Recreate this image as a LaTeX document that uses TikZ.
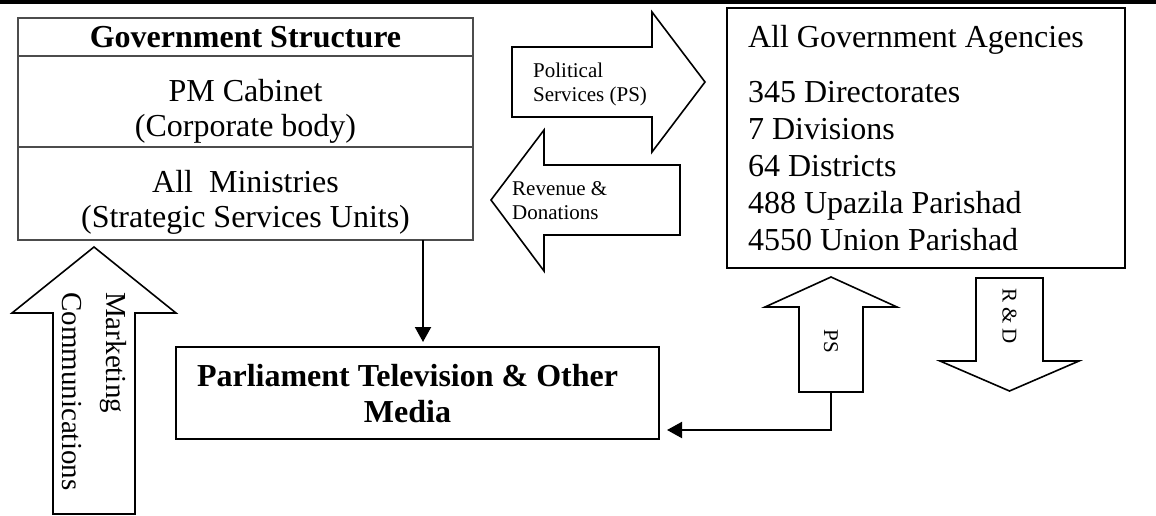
\documentclass[tikz,border=0pt]{standalone}
\usepackage{fontspec}
\setmainfont{Liberation Serif}
\usetikzlibrary{positioning,arrows.meta}

\begin{document}
\begin{tikzpicture}[x=1pt,y=-1pt,
    row/.style={draw=black!70,line width=1.3pt,minimum width=455pt,inner sep=0pt,outer sep=0pt},
    box/.style={draw,line width=2pt,inner sep=0pt},
    fat arrow/.style={draw,line width=1.6pt,fill=white},
    big text/.style={font=\fontsize{32}{35}\selectfont,align=center,inner sep=0pt},
    small text/.style={font=\fontsize{21}{24}\selectfont,align=left,inner sep=0pt},
    link/.style={line width=2pt,-{Triangle[length=15pt,width=16pt]}}]

  \useasboundingbox (0,0) rectangle (1156,515);
  \draw[line width=3.5pt] (0,2) -- (1156,2);

  \node[row,minimum height=38pt,font=\fontsize{32}{35}\selectfont\bfseries] (govtitle) at (245.5,37) {Government Structure};
  \node[row,minimum height=91pt] (cabinet) [below=0pt of govtitle] {};
  \node[row,minimum height=93pt] (ministries) [below=0pt of cabinet] {};
  \node[big text] (cabinettext) at ([yshift=-9.5pt]cabinet.center) {PM Cabinet\\(Corporate body)};
  \node[big text] (ministriestext) at ([yshift=-9pt]ministries.center) {All\ \ Ministries\\(Strategic Services Units)};

  \node[box,text width=356pt,inner xsep=21pt,minimum height=260pt,align=flush left,
        font=\fontsize{32}{37}\selectfont] (agencies) at (926,138)
    {All Government Agencies\\[18pt]345 Directorates\\7 Divisions\\64 Districts\\488 Upazila Parishad\\4550 Union Parishad};

  \node[box,minimum width=483pt,minimum height=92pt] (parl) at (417.5,393) {};
  \node[big text,font=\fontsize{32}{36}\selectfont\bfseries] (parltext) at (407.5,394) {Parliament Television \& Other\\Media};

  \draw[fat arrow] (512,47) -- (652,47) -- (652,12) -- (705,82) -- (652,152) -- (652,117) -- (512,117) -- cycle;
  \draw[fat arrow] (680,165) -- (544,165) -- (544,130) -- (491,200) -- (544,271) -- (544,235) -- (680,235) -- cycle;
  \draw[fat arrow] (53,514) -- (53,313) -- (12,313) -- (94,247) -- (176,313) -- (135,313) -- (135,514) -- cycle;
  \draw[fat arrow] (799,392) -- (799,307) -- (765,307) -- (831,277) -- (897,307) -- (863,307) -- (863,392) -- cycle;
  \draw[fat arrow] (976,278) -- (976,361) -- (940,361) -- (1009.5,391) -- (1079,361) -- (1043,361) -- (1043,278) -- cycle;

  \node[small text,anchor=west] (politicaltext) at (533,84) {Political\\Services (PS)};
  \node[small text,anchor=west] (revenuetext) at (512,201) {Revenue \&\\Donations};
  \node[small text,rotate=-90] (pstext) at (831,341) {PS};
  \node[small text,rotate=-90] (rdtext) at (1009.5,316) {R \& D};
  \node[align=left,inner sep=0pt,rotate=-90,anchor=north west,font=\fontsize{29}{44}\selectfont] (marketingtext) at (127,292) {Marketing\\Communications};

  \coordinate (drop) at ([xshift=177.5pt]ministries.south);
  \coordinate (psfoot) at (831,392);
  \draw[link,shorten >=4pt] (drop) -- (drop |- parl.north);
  \draw[link,shorten >=7pt] (psfoot) |- ([yshift=10pt]parl.south east);
\end{tikzpicture}
\end{document}
